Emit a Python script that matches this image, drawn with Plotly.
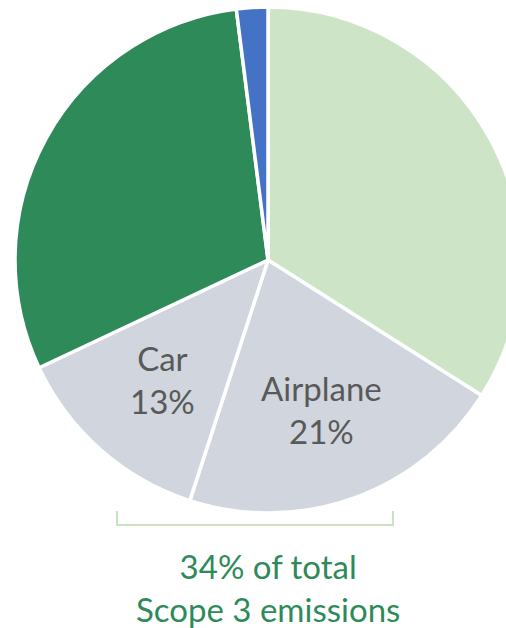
import math
import plotly.graph_objects as go

categories = ["Other Scope 3", "Airplane", "Car", "Scope 1 & 2", "Other"]
values = [34, 21, 13, 30, 2]
colors = ["#CDE5C6", "#D0D5DE", "#D0D5DE", "#2E8B59", "#4472C4"]
show_label = [False, True, True, False, False]
bracket_text = ["34% of total", "Scope 3 emissions"]

W, H = 536, 628
CX, CY, R = 268, 260, 253  # pie centre / radius in pixels

fig = go.Figure(go.Pie(
    labels=categories,
    values=values,
    sort=False,
    direction="clockwise",
    rotation=0,
    marker=dict(colors=colors, line=dict(color="white", width=3.5)),
    textinfo="none",
    hoverinfo="label+percent",
    showlegend=False,
    domain=dict(x=[0, 1], y=[(H - CY - R) / H, (H - CY + R) / H]),
))

# slice labels placed along each slice's mid-angle
total = sum(values)
cum = 0
for cat, v, s in zip(categories, values, show_label):
    mid = (cum + v / 2) / total * 2 * math.pi
    cum += v
    if not s:
        continue
    px = CX + 0.63 * R * math.sin(mid)
    py = CY - 0.63 * R * math.cos(mid)
    fig.add_annotation(x=px / W, y=(H - py) / H, xref="paper", yref="paper",
                       text=f"{cat}<br>{round(v / total * 100)}%", showarrow=False,
                       font=dict(family="Lato", size=33, color="#595959"),
                       align="center", xanchor="center", yanchor="middle")

fig.add_shape(type="path",
              path=f"M {117/W} {(H-511)/H} L {117/W} {(H-525)/H} L {393/W} {(H-525)/H} L {393/W} {(H-511)/H}",
              xref="paper", yref="paper", line=dict(color="#C9E3C0", width=2))

fig.add_annotation(x=268 / W, y=(H - 587) / H, xref="paper", yref="paper",
                   text="<br>".join(bracket_text), showarrow=False,
                   font=dict(family="Lato", size=33, color="#2E8B59"),
                   align="center", xanchor="center", yanchor="middle")

fig.update_layout(width=W, height=H, margin=dict(l=0, r=0, t=0, b=0),
                  paper_bgcolor="white", plot_bgcolor="white")

fig.write_html("out.html", config={"displayModeBar": False},
               post_script="document.body.style.margin='0';document.body.style.overflow='hidden';document.documentElement.style.overflow='hidden';")
